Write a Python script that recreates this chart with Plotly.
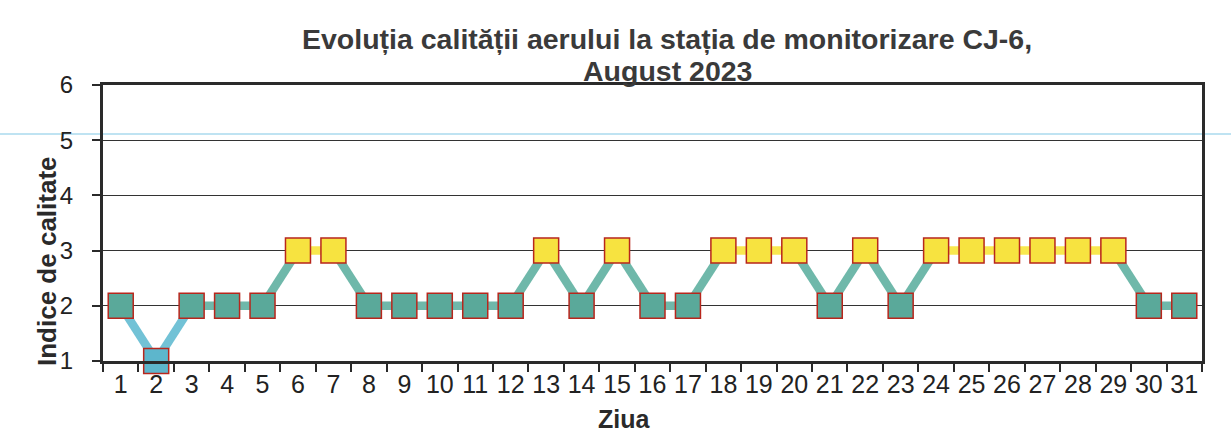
import plotly.graph_objects as go

days = list(range(1, 32))
values = [2, 1, 2, 2, 2, 3, 3, 2, 2, 2, 2, 2, 3, 2, 3, 2, 2, 3, 3, 3, 2, 3, 2, 3, 3, 3, 3, 3, 3, 2, 2]
y_ticks = [1, 2, 3, 4, 5, 6]
title_line1 = "Evoluția calității aerului la stația de monitorizare CJ-6,"
title_line2 = "August 2023"
x_title = "Ziua"
y_title = "Indice de calitate"

marker_colors = {1: "#5db6cc", 2: "#5aa99a", 3: "#f7e340"}
line_colors = {1: "#72c2d6", 2: "#6fb8aa", 3: "#f9e84e"}

W, H = 1231, 434
L, R, T, B = 103, 1202, 85, 361


def px(x):
    return (x - L) / (R - L)


def py(y):
    return (B - y) / (B - T)


fig = go.Figure()

for i in range(len(days) - 1):
    lvl = min(values[i], values[i + 1])
    fig.add_trace(go.Scatter(
        x=[days[i], days[i + 1]], y=[values[i], values[i + 1]],
        mode="lines", line=dict(color=line_colors[lvl], width=8.5),
        showlegend=False, hoverinfo="skip", cliponaxis=False))

fig.add_trace(go.Scatter(
    x=days, y=values, mode="markers",
    marker=dict(symbol="square", size=25,
                color=[marker_colors[v] for v in values],
                line=dict(color="#b8261c", width=1.5)),
    showlegend=False, cliponaxis=False))

fig.update_layout(
    width=W, height=H,
    margin=dict(l=L, r=W - R, t=T, b=H - B),
    paper_bgcolor="white", plot_bgcolor="white",
    font=dict(family="Liberation Sans, Arial, sans-serif", color="#222"),
    xaxis=dict(range=[0.5, 31.5], tickmode="array", tickvals=days,
               ticktext=[str(d) for d in days], ticks="",
               tickfont=dict(size=25, color="#222"), ticklabelstandoff=-1,
               showgrid=False, zeroline=False,
               showline=True, linecolor="#2a2a2a", linewidth=3, mirror=True,
               minor=dict(ticks="outside", tick0=0.5, dtick=1, ticklen=8,
                          tickcolor="#2a2a2a", tickwidth=1.5, showgrid=False)),
    yaxis=dict(range=[1, 6], tickmode="array", tickvals=y_ticks,
               ticks="outside", ticklen=8, tickcolor="#2a2a2a", tickwidth=1.5,
               tickfont=dict(size=24, color="#222"), ticklabelstandoff=14,
               showgrid=True, gridcolor="#333", gridwidth=1,
               zeroline=False, showline=True, linecolor="#2a2a2a",
               linewidth=3, mirror=True),
    annotations=[
        dict(text="<b>" + title_line1 + "</b>", x=px(667), y=py(39),
             xref="paper", yref="paper", xanchor="center", yanchor="middle",
             showarrow=False, font=dict(size=28.5, color="#3a3a3a")),
        dict(text="<b>" + title_line2 + "</b>", x=px(667), y=py(71),
             xref="paper", yref="paper", xanchor="center", yanchor="middle",
             showarrow=False, font=dict(size=28.5, color="#3a3a3a")),
        dict(text="<b>" + x_title + "</b>", x=px(624), y=py(419),
             xref="paper", yref="paper", xanchor="center", yanchor="middle",
             showarrow=False, font=dict(size=25, color="#2a2a2a")),
        dict(text="<b>" + y_title + "</b>", x=px(47), y=py(261),
             xref="paper", yref="paper", xanchor="center", yanchor="middle",
             textangle=-90, showarrow=False, font=dict(size=26, color="#2a2a2a")),
    ],
)

# scan artifact: faint blue line across the page
fig.add_shape(type="line", xref="paper", yref="paper",
              x0=px(0), x1=px(W), y0=py(134), y1=py(134),
              line=dict(color="#bfe3f2", width=2), layer="below")

fig.write_html("out.html", config={"displayModeBar": False},
               post_script="document.body.style.margin='0';document.body.style.overflow='hidden';")
